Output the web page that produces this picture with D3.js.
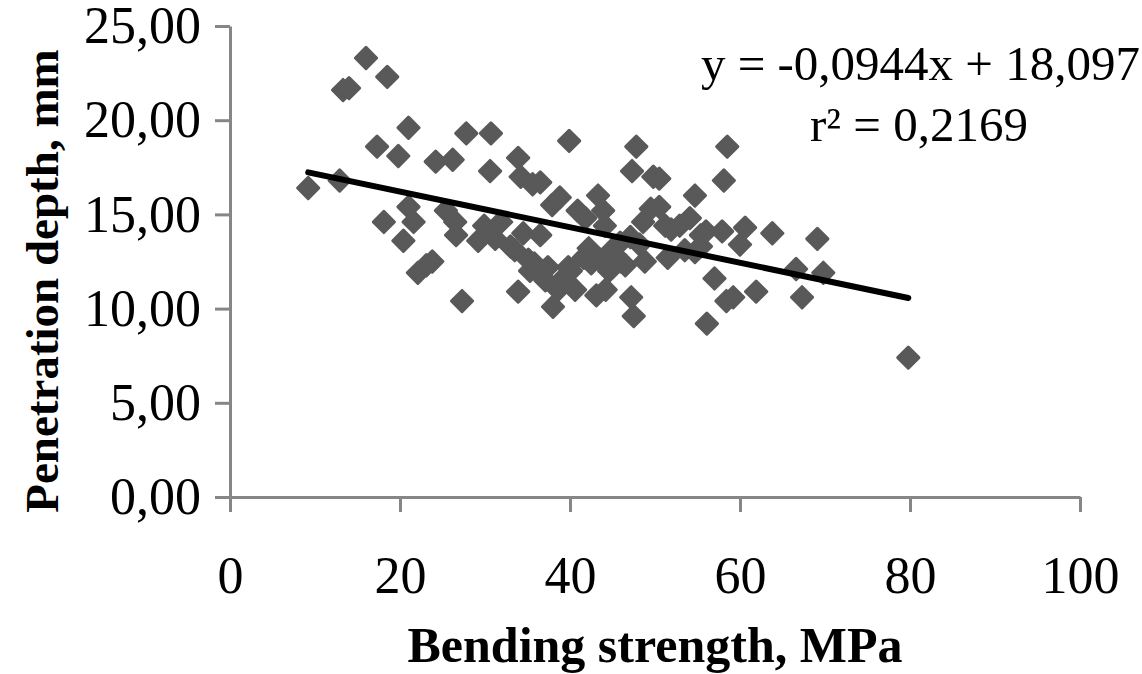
<!DOCTYPE html>
<html>
<head>
<meta charset="utf-8">
<script src="https://cdn.jsdelivr.net/npm/d3@7"></script>
<style>
    body { margin: 0; background: #fff; }
    svg { display: block; font-family: "Liberation Serif", "Times New Roman", serif; }
    .axis path, .axis line { stroke: #868686; stroke-width: 3; }
    .axis text { font-family: "Liberation Serif", "Times New Roman", serif; font-size: 52px; fill: #000; }
    .axis-label { font-size: 50px; font-weight: bold; }
    .eq { font-size: 49px; }
</style>
</head>
<body>
<script>
// Chart dimensions
const width = 1142;
const height = 674;
const margin = { top: 26, right: 62, bottom: 177, left: 230 };

// Bending strength (MPa)
const strength = [
    9.2, 12.9, 13.3, 14.0, 16.0, 18.5, 17.3, 18.1, 19.8, 20.4,
    21.0, 21.0, 21.6, 22.1, 23.1, 23.8, 24.2, 25.4, 26.2, 26.5,
    26.6, 27.3, 27.8, 29.2, 29.9, 30.7, 30.6, 31.2, 31.9, 33.0,
    33.5, 33.9, 33.9, 34.2, 34.5, 35.1, 35.3, 35.6, 36.5, 36.5,
    36.6, 37.1, 37.4, 37.9, 38.0, 38.8, 38.6, 39.2, 39.8, 39.9,
    40.6, 40.9, 41.8, 41.6, 42.2, 43.3, 43.1, 43.6, 43.9, 44.1,
    44.2, 44.6, 44.9, 45.6, 45.9, 46.5, 47.1, 47.2, 47.5, 47.3,
    47.8, 48.2, 48.6, 48.8, 49.5, 49.8, 50.5, 50.5, 51.2, 51.5,
    51.9, 52.9, 53.5, 54.1, 54.7, 54.7, 55.4, 56.0, 56.1, 57.0,
    57.9, 58.1, 58.5, 58.4, 59.2, 60.0, 60.6, 61.9, 63.8, 66.6,
    67.3, 69.1, 69.8, 79.8, 55.4, 42.5, 40.1, 35.8, 46.0
];

// Penetration depth (mm)
const depth = [
    16.4, 16.8, 21.6, 21.7, 23.3, 22.3, 18.6, 14.6, 18.1, 13.6,
    19.6, 15.4, 14.6, 11.9, 12.3, 12.5, 17.8, 15.2, 17.9, 14.6,
    13.9, 10.4, 19.3, 13.6, 14.4, 19.3, 17.3, 13.7, 14.6, 13.3,
    13.1, 18.0, 10.9, 17.0, 14.0, 12.6, 12.0, 16.6, 16.7, 13.9,
    12.0, 11.5, 12.2, 15.5, 10.1, 15.9, 11.0, 11.6, 12.2, 18.9,
    11.0, 15.2, 14.8, 12.7, 13.2, 16.0, 10.7, 12.6, 15.2, 14.4,
    11.0, 12.0, 13.1, 12.7, 13.5, 12.3, 13.8, 10.6, 9.6, 17.3,
    18.6, 13.4, 14.6, 12.5, 15.3, 17.0, 16.9, 15.4, 14.4, 12.7,
    14.2, 14.4, 13.1, 14.8, 16.0, 13.0, 13.9, 14.1, 9.2, 11.6,
    14.1, 16.8, 18.6, 10.4, 10.6, 13.4, 14.3, 10.9, 14.0, 12.1,
    10.6, 13.7, 11.9, 7.4, 13.3, 12.4, 12.0, 12.4, 12.5
];

// Axis ticks and trend line
const xTicks = [0, 20, 40, 60, 80, 100];
const yTicks = [0, 5, 10, 15, 20, 25];
const slope = -0.0944;
const intercept = 18.097;
const equationText = "y = -0,0944x + 18,097";
const rSquaredText = "r² = 0,2169";

const data = strength.map((s, i) => ({ x: s, y: depth[i] }));

const svg = d3.select("body")
    .append("svg")
    .attr("width", width)
    .attr("height", height);

const xScale = d3.scaleLinear()
    .domain([0, 100])
    .range([margin.left, width - margin.right]);

const yScale = d3.scaleLinear()
    .domain([0, 25])
    .range([height - margin.bottom, margin.top]);

const commaFormat = f => v => d3.format(f)(v).replace(".", ",");

// x axis
svg.append("g")
    .attr("class", "axis")
    .attr("transform", `translate(0, ${yScale(0)})`)
    .call(d3.axisBottom(xScale)
        .tickValues(xTicks)
        .tickSize(15)
        .tickSizeOuter(0)
        .tickPadding(44)
        .tickFormat(d3.format("d")));

// y axis
svg.append("g")
    .attr("class", "axis")
    .attr("transform", `translate(${xScale(0)}, 0)`)
    .call(d3.axisLeft(yScale)
        .tickValues(yTicks)
        .tickSize(15)
        .tickSizeOuter(0)
        .tickPadding(14)
        .tickFormat(commaFormat(".2f")));

// Axis titles
svg.append("text")
    .attr("class", "axis-label")
    .attr("x", 655)
    .attr("y", 662)
    .attr("text-anchor", "middle")
    .text("Bending strength, MPa");

svg.append("text")
    .attr("class", "axis-label")
    .attr("transform", "rotate(-90)")
    .attr("x", -281)
    .attr("y", 58)
    .attr("text-anchor", "middle")
    .style("font-size", "47px")
    .text("Penetration depth, mm");

// Points as rotated squares
svg.append("g")
    .selectAll("path")
    .data(data)
    .join("path")
    .attr("d", d3.symbol(d3.symbolSquare, 225))
    .attr("transform", d => `translate(${xScale(d.x)}, ${yScale(d.y)}) rotate(45)`)
    .attr("fill", "#595959")
    .attr("stroke", "#595959")
    .attr("stroke-width", 3)
    .attr("stroke-linejoin", "round");

// Linear trend line over the data range
const xExtent = d3.extent(strength);
svg.append("path")
    .datum(xExtent)
    .attr("fill", "none")
    .attr("stroke", "#000")
    .attr("stroke-width", 6)
    .attr("stroke-linecap", "round")
    .attr("d", d3.line()
        .x(d => xScale(d))
        .y(d => yScale(slope * d + intercept)));

// Equation labels
svg.append("text")
    .attr("class", "eq")
    .attr("x", 1140)
    .attr("y", 80)
    .attr("text-anchor", "end")
    .text(equationText);

svg.append("text")
    .attr("class", "eq")
    .attr("x", 919)
    .attr("y", 141)
    .attr("text-anchor", "middle")
    .text(rSquaredText);
</script>
</body>
</html>
